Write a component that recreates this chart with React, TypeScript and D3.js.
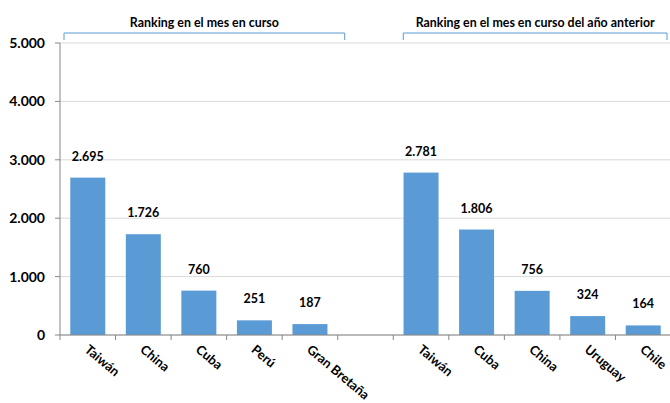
import React from "react";
import * as d3 from "d3";

// DATA
const currentCats = ["Taiwán", "China", "Cuba", "Perú", "Gran Bretaña"];
const currentVals = [2695, 1726, 760, 251, 187];
const prevCats = ["Taiwán", "Cuba", "China", "Uruguay", "Chile"];
const prevVals = [2781, 1806, 756, 324, 164];
const yTicks = [0, 1000, 2000, 3000, 4000, 5000];
const groupTitles = ["Ranking en el mes en curso", "Ranking en el mes en curso del año anterior"];

const W = 670;
const H = 403;
const FONT = "Lato, 'Open Sans', sans-serif";
const BLUE = "#5B9BD5";

const esLocale = d3.formatLocale({ decimal: ",", thousands: ".", grouping: [3], currency: ["", ""] });
const fmt = esLocale.format(",d");

export default function App() {
  // one row per band, empty band between the two groups
  const rows = [
    ...currentCats.map((c, i) => ({ key: "a" + i, label: c, value: currentVals[i] })),
    { key: "gap", label: "", value: null as number | null },
    ...prevCats.map((c, i) => ({ key: "b" + i, label: c, value: prevVals[i] })),
  ];

  const margin = { left: 60, right: -1, top: 43, bottom: 68 };
  const x = d3
    .scaleBand()
    .domain(rows.map((d) => d.key))
    .range([margin.left, W - margin.right])
    .paddingInner(0.37)
    .paddingOuter(0.185);
  const y = d3.scaleLinear().domain([0, 5000]).range([H - margin.bottom, margin.top]);
  const step = x.step();
  const bandStart = (k: string) => (x(k) as number) - (step - x.bandwidth()) / 2;

  // BRACKETS
  const brackets = [
    { x0: bandStart("a0") + 4, x1: bandStart("gap") + 7, title: groupTitles[0] },
    { x0: bandStart("b0") + 10, x1: bandStart("b4") + step - 4, title: groupTitles[1] },
  ];

  return (
    <svg width={W} height={H} style={{ position: "absolute", left: 0, top: 0, background: "#fff" }}>
      {/* Y GRID */}
      {yTicks.map((t) => (
        <line key={"g" + t} x1={margin.left} x2={W} y1={y(t)} y2={y(t)} stroke="#d9d9d9" strokeWidth={1} />
      ))}

      {/* BARS */}
      {rows
        .filter((d) => d.value !== null)
        .map((d) => (
          <g key={d.key}>
            <rect
              x={x(d.key)}
              y={y(d.value as number)}
              width={x.bandwidth()}
              height={y(0) - y(d.value as number)}
              fill={BLUE}
            />
            <text
              x={(x(d.key) as number) + x.bandwidth() / 2}
              y={y(d.value as number) - 17}
              textAnchor="middle"
              fontFamily={FONT}
              fontWeight="bold"
              fontSize={12.5}
              fill="#000"
            >
              {fmt(d.value as number)}
            </text>
          </g>
        ))}

      {/* Y AXIS */}
      <line x1={margin.left} x2={margin.left} y1={y(5000)} y2={y(0)} stroke="#868686" />
      {yTicks.map((t) => (
        <g key={"t" + t}>
          <line x1={margin.left - 5} x2={margin.left} y1={y(t)} y2={y(t)} stroke="#868686" />
          <text
            x={margin.left - 15}
            y={y(t)}
            dy="0.35em"
            textAnchor="end"
            fontFamily={FONT}
            fontWeight="bold"
            fontSize={14}
            fill="#000"
          >
            {fmt(t)}
          </text>
        </g>
      ))}

      {/* X AXIS */}
      <line x1={margin.left} x2={W} y1={y(0)} y2={y(0)} stroke="#868686" />
      {rows.map((d) => (
        <line
          key={"xt" + d.key}
          x1={bandStart(d.key)}
          x2={bandStart(d.key)}
          y1={y(0)}
          y2={y(0) + 5}
          stroke="#868686"
        />
      ))}
      {rows
        .filter((d) => d.label)
        .map((d) => {
          const cx = (x(d.key) as number) + x.bandwidth() / 2 - 4;
          const cy = y(0) + 16;
          return (
            <text
              key={"xl" + d.key}
              transform={`translate(${cx},${cy}) rotate(40)`}
              textAnchor="start"
              fontFamily={FONT}
              fontWeight="bold"
              fontSize={13}
              fill="#000"
            >
              {d.label}
            </text>
          );
        })}

      {/* GROUP BRACKETS */}
      {brackets.map((b, i) => (
        <g key={"br" + i}>
          <path
            d={`M${b.x0},40 V33 H${b.x1} V40`}
            fill="none"
            stroke={BLUE}
            strokeWidth={1}
          />
          <text
            x={(b.x0 + b.x1) / 2}
            y={27}
            textAnchor="middle"
            fontFamily={FONT}
            fontWeight="bold"
            fontSize={12.4}
            fill="#000"
          >
            {b.title}
          </text>
        </g>
      ))}
    </svg>
  );
}
